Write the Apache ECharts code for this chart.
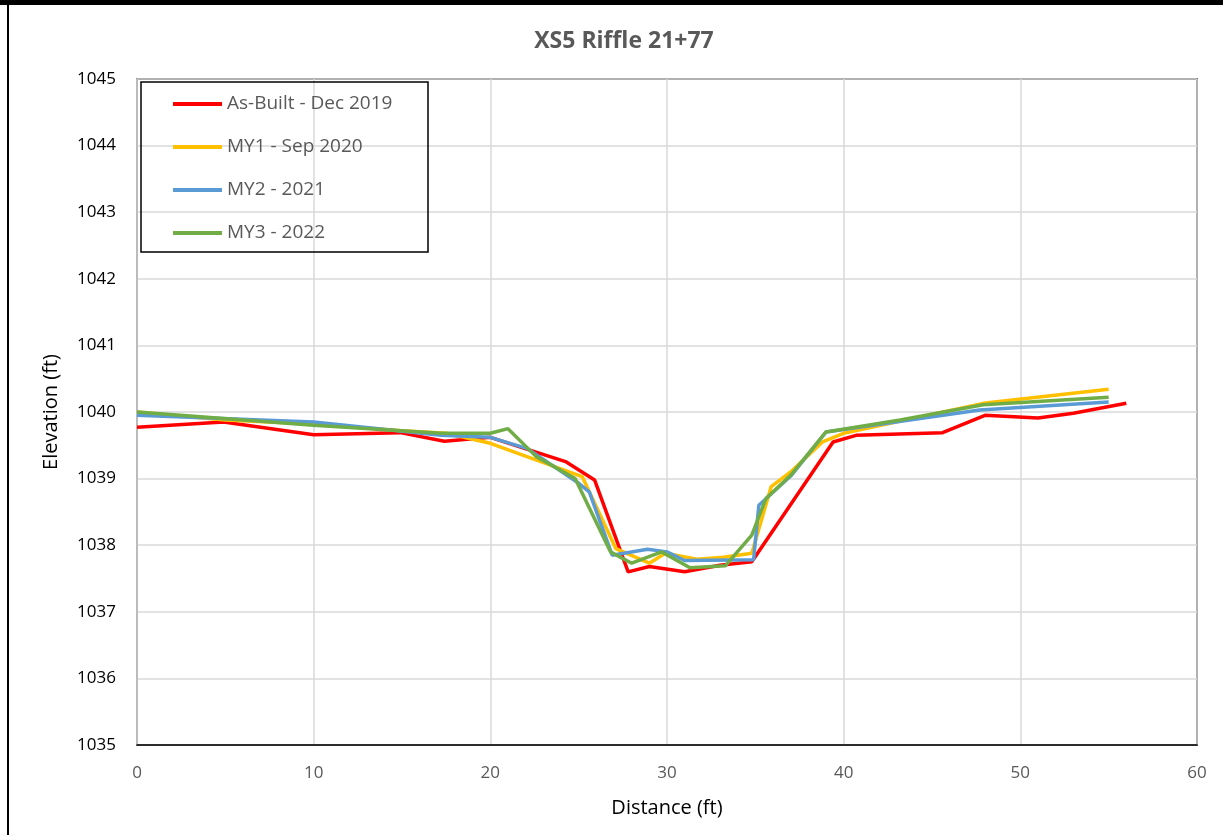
<!DOCTYPE html>
<html>
<head>
<meta charset="utf-8">
<script src="https://cdn.jsdelivr.net/npm/echarts@6/dist/echarts.min.js"></script>
<style>
html,body{margin:0;padding:0;background:#fff;}
#chart{width:1223px;height:835px;}
</style>
</head>
<body>
<div id="chart"></div>
<script>
const titleText = "XS5 Riffle 21+77";
const xAxisName = "Distance (ft)";
const yAxisName = "Elevation (ft)";
const seriesNames = ["As-Built - Dec 2019", "MY1 - Sep 2020", "MY2 - 2021", "MY3 - 2022"];
const seriesColors = ["#FF0000", "#FFC000", "#5B9BD5", "#70AD47"];

const asBuiltX = [0, 4.9, 10, 14.9, 17.4, 20, 24.3, 25.9, 27.8, 29.0, 31.0, 33.0, 34.8, 39.4, 40.7, 45.6, 48.0, 51.0, 53.0, 56.0];
const asBuiltY = [1039.77, 1039.85, 1039.66, 1039.69, 1039.56, 1039.62, 1039.25, 1038.98, 1037.60, 1037.68, 1037.60, 1037.70, 1037.75, 1039.55, 1039.65, 1039.69, 1039.95, 1039.91, 1039.98, 1040.13];

const my1X = [0, 5, 10, 15, 17.5, 20, 25.2, 27.1, 29.0, 29.9, 31.7, 33.2, 34.8, 35.9, 37.0, 38.8, 40.0, 42.1, 47.9, 55.0];
const my1Y = [1040.0, 1039.88, 1039.82, 1039.72, 1039.68, 1039.53, 1039.03, 1037.95, 1037.73, 1037.88, 1037.79, 1037.82, 1037.88, 1038.88, 1039.10, 1039.55, 1039.68, 1039.80, 1040.13, 1040.34];

const my2X = [0, 10, 17.2, 20, 22.1, 24.9, 25.6, 26.9, 28.9, 30.0, 31.0, 34.9, 35.2, 37.05, 39.0, 47.7, 55.0];
const my2Y = [1039.95, 1039.85, 1039.65, 1039.62, 1039.45, 1038.95, 1038.80, 1037.85, 1037.94, 1037.90, 1037.77, 1037.78, 1038.60, 1039.05, 1039.70, 1040.03, 1040.15];

const my3X = [0, 10, 17.2, 20, 21.0, 22.6, 24.8, 26.8, 28.0, 29.7, 31.3, 33.3, 34.8, 35.6, 37.0, 39.0, 43.2, 47.9, 55.0];
const my3Y = [1040.0, 1039.80, 1039.68, 1039.68, 1039.75, 1039.33, 1039.0, 1037.90, 1037.73, 1037.90, 1037.66, 1037.69, 1038.15, 1038.70, 1039.05, 1039.70, 1039.88, 1040.11, 1040.22];

const allX = [asBuiltX, my1X, my2X, my3X];
const allY = [asBuiltY, my1Y, my2Y, my3Y];

function zip(xs, ys) { return xs.map((x, i) => [x, ys[i]]); }

const FONT = "'Open Sans', 'Noto Sans', sans-serif";

const chart = echarts.init(document.getElementById('chart'));
chart.setOption({
  animation: false,
  backgroundColor: '#fff',
  title: {
    text: titleText,
    left: 619, top: 25, textAlign: 'center',
    textStyle: { fontFamily: FONT, fontSize: 23, fontWeight: 'bold', color: '#595959' }
  },
  grid: {
    left: 137, top: 79, right: 26, bottom: 90,
    show: true, borderColor: '#000', borderWidth: 1.5, backgroundColor: 'transparent'
  },
  legend: {
    orient: 'vertical',
    left: 168, top: 89,
    itemWidth: 49, itemHeight: 4,
    itemGap: 23,
    icon: 'rect',
    data: seriesNames,
    textStyle: { fontFamily: FONT, fontSize: 19, color: '#595959', lineHeight: 20 }
  },
  xAxis: {
    type: 'value', min: 0, max: 60, interval: 10,
    name: xAxisName, nameLocation: 'middle', nameGap: 53,
    nameTextStyle: { fontFamily: FONT, fontSize: 20, color: '#000' },
    axisLine: { show: true, lineStyle: { color: '#000', width: 1.5 } },
    axisTick: { show: false },
    axisLabel: { fontFamily: FONT, fontSize: 17, color: '#595959', margin: 20 },
    splitLine: { show: true, lineStyle: { color: '#d9d9d9', width: 1.5 } }
  },
  yAxis: {
    type: 'value', min: 1035, max: 1045, interval: 1,
    name: yAxisName, nameLocation: 'middle', nameGap: 76, nameRotate: 90,
    nameTextStyle: { fontFamily: FONT, fontSize: 20, color: '#000' },
    axisLine: { show: true, lineStyle: { color: '#bfbfbf', width: 1.5 } },
    axisTick: { show: false },
    axisLabel: { fontFamily: FONT, fontSize: 17, color: '#000', margin: 21, formatter: v => String(v) },
    splitLine: { show: true, lineStyle: { color: '#d9d9d9', width: 1.5 } }
  },
  series: seriesNames.map((name, i) => ({
    name: name,
    type: 'line',
    data: zip(allX[i], allY[i]),
    showSymbol: false,
    symbol: 'none',
    color: seriesColors[i],
    lineStyle: { color: seriesColors[i], width: 3.5 },
    z: 2 + i
  })),
  graphic: [
    { type: 'rect', shape: { x: 141, y: 82, width: 287, height: 170 }, style: { fill: 'none', stroke: '#000', lineWidth: 1.5 }, z: 100 },
    { type: 'rect', shape: { x: 0, y: 0, width: 1223, height: 5 }, style: { fill: '#000' }, z: 100 },
    { type: 'rect', shape: { x: 7, y: 0, width: 2, height: 835 }, style: { fill: '#000' }, z: 100 }
  ]
});
</script>
</body>
</html>
